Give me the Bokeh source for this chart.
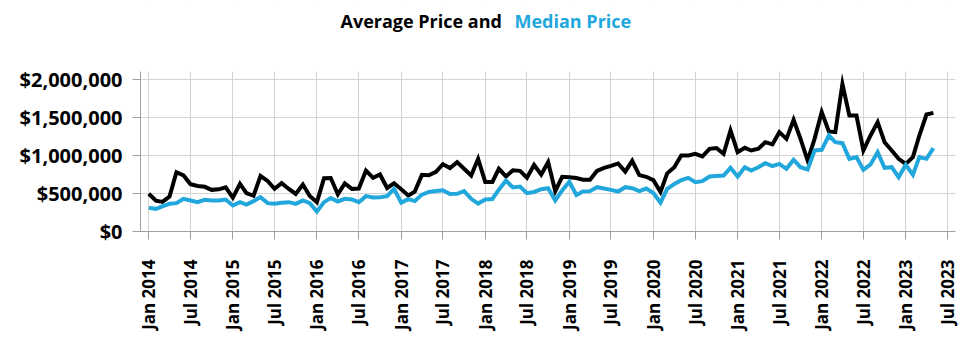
import math
import pandas as pd
from bokeh.plotting import figure
from bokeh.models import (Range1d, FixedTicker, DatetimeTickFormatter, NumeralTickFormatter,
                          Label, ColumnDataSource, BoxAnnotation)
from bokeh.embed import file_html
from bokeh.resources import INLINE

# Monthly data, Jan 2014 .. May 2023
months = list(pd.date_range("2014-01-01", "2023-05-01", freq="MS"))

average_price = [
    496000, 405000, 390000, 460000, 780000, 737000, 622000, 598000, 588000, 548000, 555000, 580000,
    445000, 627000, 505000, 470000, 730000, 665000, 561000, 636000, 560000, 495000, 618000, 468000,
    386000, 700000, 704000, 490000, 632000, 561000, 565000, 800000, 705000, 750000, 572000, 634000,
    555000, 474000, 525000, 745000, 740000, 785000, 886000, 835000, 912000, 825000, 737000, 956000,
    652000, 652000, 825000, 725000, 805000, 798000, 708000, 875000, 750000, 912000, 532000, 720000,
    715000, 704000, 682000, 682000, 796000, 838000, 864000, 895000, 788000, 930000, 742000, 720000,
    676000, 520000, 765000, 846000, 1000000, 1000000, 1022000, 987000, 1088000, 1098000, 1022000, 1329000,
    1044000, 1101000, 1066000, 1088000, 1175000, 1145000, 1307000, 1219000, 1469000, 1219000, 934000, 1219000,
    1570000, 1316000, 1307000, 1940000, 1526000, 1526000, 1066000, 1263000, 1439000, 1175000, 1066000, 956000,
    890000, 978000, 1263000, 1539000, 1561000,
]

median_price = [
    311000, 298000, 329000, 364000, 373000, 430000, 408000, 386000, 417000, 408000, 408000, 421000,
    342000, 386000, 355000, 399000, 452000, 373000, 364000, 377000, 386000, 364000, 408000, 373000,
    263000, 386000, 439000, 395000, 430000, 421000, 386000, 465000, 448000, 452000, 465000, 561000,
    380000, 425000, 400000, 485000, 520000, 532000, 543000, 494000, 495000, 532000, 430000, 368000,
    420000, 428000, 550000, 671000, 579000, 592000, 504000, 520000, 557000, 570000, 408000, 540000,
    654000, 480000, 526000, 531000, 583000, 565000, 548000, 526000, 583000, 570000, 531000, 565000,
    507000, 380000, 561000, 625000, 675000, 706000, 649000, 662000, 724000, 730000, 737000, 838000,
    724000, 846000, 803000, 846000, 899000, 860000, 890000, 825000, 943000, 846000, 816000, 1066000,
    1075000, 1263000, 1175000, 1162000, 956000, 978000, 811000, 882000, 1044000, 838000, 846000, 715000,
    878000, 746000, 978000, 956000, 1096000,
]

x_tick_dates = [f"{y}-{m:02d}-01" for y in range(2014, 2024) for m in (1, 7)]
y_ticks = [0, 500000, 1000000, 1500000, 2000000]

title_black = "Average Price and"
title_blue = "Median Price"

BLUE = "#22A7DD"
FONT = "Open Sans"

# plotting area: y from 0 to Y_TOP occupies 160 px; the frame is extended upward
# (231 px tall) to host the two-colour title, and that band is masked in white.
Y_TOP = 2105000
FRAME_H = 231
PLOT_H = 160

src = ColumnDataSource(dict(date=months, avg=average_price, med=median_price))

p = figure(width=964, height=343, x_axis_type="datetime", output_backend="svg",
           toolbar_location=None, min_border_left=140, min_border_right=9,
           min_border_top=0, min_border_bottom=112)
p.x_range = Range1d(pd.Timestamp("2013-11-26"), pd.Timestamp("2023-08-05"))
p.y_range = Range1d(0, Y_TOP * FRAME_H / PLOT_H)
p.outline_line_color = None
p.background_fill_color = "white"

p.line("date", "avg", source=src, line_color="black", line_width=4, line_join="miter")
p.line("date", "med", source=src, line_color=BLUE, line_width=4, line_join="miter")

tick_ms = [pd.Timestamp(d).value / 1e6 for d in x_tick_dates]
p.xaxis.ticker = FixedTicker(ticks=tick_ms)
fmt = "%b %Y"
p.xaxis.formatter = DatetimeTickFormatter(days=fmt, months=fmt, years=fmt, hours=fmt,
                                          minutes=fmt, seconds=fmt, milliseconds=fmt,
                                          microseconds=fmt, minsec=fmt, hourmin=fmt)
p.xaxis.major_label_orientation = math.pi / 2
p.yaxis.ticker = FixedTicker(ticks=y_ticks)
p.yaxis.formatter = NumeralTickFormatter(format="$0,0")
p.yaxis.bounds = (0, Y_TOP)

for ax in (p.xaxis[0], p.yaxis[0]):
    ax.axis_line_color = "#a0a0a0"
    ax.major_tick_line_color = "#a0a0a0"
    ax.major_tick_out = 8
    ax.major_tick_in = 0
    ax.minor_tick_line_color = None
    ax.major_label_text_font = FONT
    ax.major_label_text_font_style = "bold"
    ax.major_label_text_color = "black"

p.xaxis.major_label_text_font_size = "17px"
p.xaxis.major_label_standoff = 20
p.yaxis.major_label_text_font_size = "20px"
p.yaxis.major_label_standoff = 10

p.xgrid.grid_line_color = "#d4d4d4"
p.ygrid.grid_line_color = "#d4d4d4"

mask = BoxAnnotation(bottom=Y_TOP, fill_color="white", fill_alpha=1.0, line_color=None)
p.add_layout(mask)

t1 = Label(x=200, y=211, x_units="screen", y_units="screen", text=title_black,
           text_font=FONT, text_font_style="bold", text_font_size="18px",
           text_color="black", text_baseline="middle", text_align="left")
t2 = Label(x=374, y=211, x_units="screen", y_units="screen", text=title_blue,
           text_font=FONT, text_font_style="bold", text_font_size="18px",
           text_color=BLUE, text_baseline="middle", text_align="left")
p.add_layout(t1)
p.add_layout(t2)

open("out.html", "w").write(file_html(p, INLINE))
